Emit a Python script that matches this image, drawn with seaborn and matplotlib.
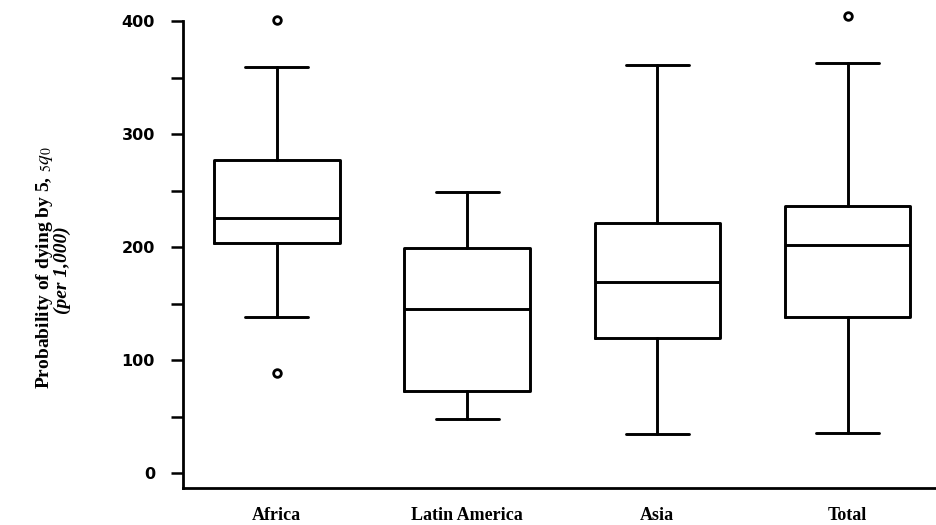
import numpy as np
import matplotlib
matplotlib.use("Agg")
import matplotlib.pyplot as plt
import seaborn as sns

# values (per 1,000)
regions = ['Africa', 'Latin America', 'Asia', 'Total']
whislo = [138, 48, 35, 36]
q1 = [204, 73, 120, 138]
median = [226, 145, 169, 202]
q3 = [277, 199, 221, 236]
whishi = [359, 249, 361, 363]
fliers = [[401, 89], [], [], [404]]

sns.set_style("ticks")
plt.rcParams['mathtext.fontset'] = 'stix'
plt.rcParams['text.color'] = 'black'
plt.rcParams['xtick.color'] = 'black'
plt.rcParams['ytick.color'] = 'black'

stats = []
for i, name in enumerate(regions):
    stats.append({'label': name, 'whislo': whislo[i], 'q1': q1[i], 'med': median[i],
                  'q3': q3[i], 'whishi': whishi[i], 'fliers': fliers[i]})

fig = plt.figure(figsize=(9.37, 5.25), dpi=100)
ax = fig.add_axes([0.195, 0.0705, 0.805, 0.911])

lw = 2.1
ax.bxp(stats, positions=range(len(regions)), widths=0.66, showfliers=True,
       boxprops=dict(color='black', linewidth=lw),
       medianprops=dict(color='black', linewidth=lw),
       whiskerprops=dict(color='black', linewidth=lw),
       capprops=dict(color='black', linewidth=lw),
       capwidths=0.33,
       flierprops=dict(marker='o', markerfacecolor='white', markeredgecolor='black',
                       markersize=5.5, markeredgewidth=2))

ax.set_xlim(-0.495, 3.47)
ax.set_ylim(-13, 410)
ax.set_yticks([0, 100, 200, 300, 400])
ax.set_yticks([50, 150, 250, 350], minor=True)
ax.set_xticks(range(len(regions)))
ax.set_xticklabels(regions, fontfamily='Liberation Serif', fontweight='bold', fontsize=13)
for lab in ax.get_yticklabels():
    lab.set_fontfamily('DejaVu Sans')
    lab.set_fontweight('bold')
    lab.set_fontsize(11.5)

ax.tick_params(axis='x', length=0, pad=14)
ax.tick_params(axis='y', which='both', length=9, width=1.8, pad=11, color='black')

sns.despine(ax=ax)
ax.spines['left'].set_bounds(-13, 400)
ax.spines['left'].set_linewidth(2)
ax.spines['bottom'].set_linewidth(2)
ax.spines['left'].set_color('black')
ax.spines['bottom'].set_color('black')

fig.text(0.048, 0.49, r'Probability of dying by 5, ${}_{5}\mathit{q}_{0}$', rotation=90,
         ha='center', va='center', fontfamily='Liberation Serif', fontweight='bold',
         fontsize=14)
fig.text(0.067, 0.485, '(per 1,000)', rotation=90, ha='center', va='center',
         fontfamily='Liberation Serif', fontweight='bold', fontstyle='italic', fontsize=14)

fig.savefig('out.png', dpi=100)
